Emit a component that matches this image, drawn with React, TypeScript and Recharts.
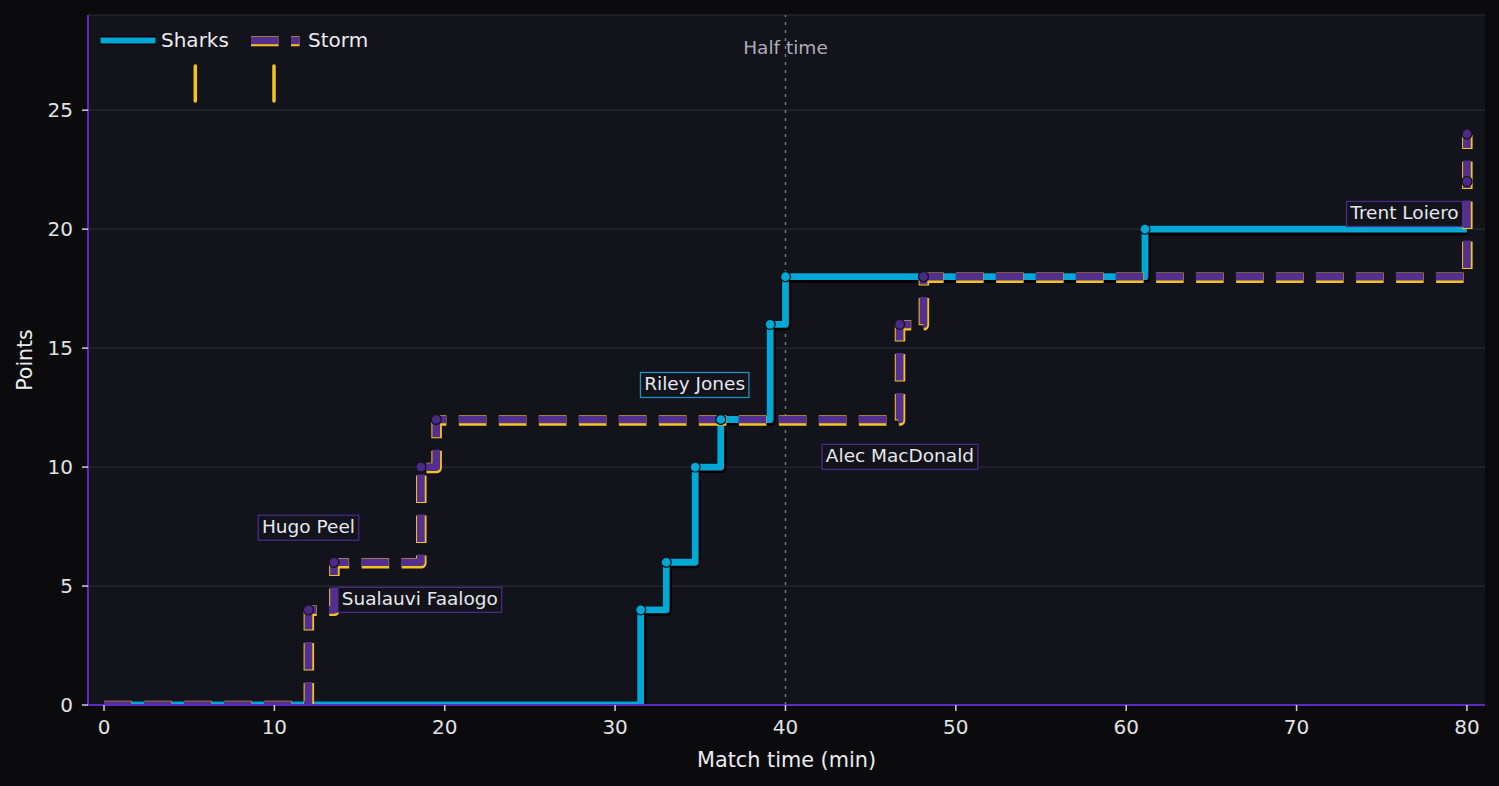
import React from 'react';
import {
  ComposedChart,
  Line,
  Scatter,
  XAxis,
  YAxis,
  CartesianGrid,
  ReferenceLine,
} from 'recharts';

// ---- data ----
const sharksTime = [0, 31.5, 33.0, 34.7, 36.2, 39.1, 40.0, 61.1, 80];
const sharksPoints = [0, 4, 6, 10, 12, 16, 18, 20, 20];
const stormTime = [0, 12.0, 13.5, 18.6, 19.5, 46.7, 48.1, 80, 80];
const stormPoints = [0, 4, 6, 10, 12, 16, 18, 22, 24];

const xTicks = [0, 10, 20, 30, 40, 50, 60, 70, 80];
const yTicks = [0, 5, 10, 15, 20, 25];

const scorerNames = ['Hugo Peel', 'Sualauvi Faalogo', 'Riley Jones', 'Alec MacDonald', 'Trent Loiero'];
const scorerTeams = ['Storm', 'Storm', 'Sharks', 'Storm', 'Storm'];
const labelTime = [12.0, 13.73, 34.67, 46.72, 79.74];
const labelPoints = [7.45, 4.42, 13.45, 10.43, 20.64];
const labelAlign = ['middle', 'start', 'middle', 'middle', 'end'];

const halfTime = 40;

// ---- styles ----
const CYAN = '#00a8d6';
const PURPLE = '#53308f';
const YELLOW = '#f5c41c';
const SPINE = '#5f27c4';
const PLOT_BG = '#12131b';
const FIG_BG = '#0b0b0e';
const FONT = '"DejaVu Sans", sans-serif';

const sharksData = sharksTime.map((t, i) => ({ t, v: sharksPoints[i] }));
const stormData = stormTime.map((t, i) => ({ t, v: stormPoints[i] }));
const sharksDots = sharksData.filter((d, i) => i > 0 && d.v !== sharksData[i - 1].v);
const stormDots = stormData.filter((d, i) => i > 0 && d.v !== stormData[i - 1].v);
const labelData = scorerNames.map((name, i) => ({
  t: labelTime[i],
  v: labelPoints[i],
  name,
  team: scorerTeams[i],
  align: labelAlign[i],
}));

let ctx: CanvasRenderingContext2D | null = null;
function measure(text: string, size: number) {
  if (!ctx) {
    const c = document.createElement('canvas');
    ctx = c.getContext('2d');
  }
  if (!ctx) return text.length * size * 0.6;
  ctx.font = `${size}px "DejaVu Sans"`;
  return ctx.measureText(text).width;
}

const LABEL_SIZE = 18.5;

const LabelBox = (props: any) => {
  const { cx, cy, payload } = props;
  if (cx == null || cy == null) return null;
  const pad = 3.8;
  const w = measure(payload.name, LABEL_SIZE) + pad * 2;
  const h = 25;
  let x0 = cx - w / 2;
  if (payload.align === 'start') x0 = cx;
  if (payload.align === 'end') x0 = cx - w;
  const border = payload.team === 'Sharks' ? '#1a93c0' : '#4a2a85';
  return (
    <g>
      <rect x={x0} y={cy - h / 2} width={w} height={h} fill={PLOT_BG} stroke={border} strokeWidth={1.3} />
      <text x={x0 + w / 2} y={cy + 5} textAnchor="middle" fontSize={LABEL_SIZE} fill="#e6e6ec" fontFamily={FONT}>
        {payload.name}
      </text>
    </g>
  );
};

const SharksDot = (props: any) => {
  const { cx, cy } = props;
  if (cx == null || cy == null) return null;
  return <circle cx={cx} cy={cy} r={5} fill={CYAN} stroke="#10131a" strokeWidth={1.3} />;
};
const StormDot = (props: any) => {
  const { cx, cy } = props;
  if (cx == null || cy == null) return null;
  return <circle cx={cx} cy={cy} r={5} fill="#4a2a85" stroke="#15131c" strokeWidth={1.3} />;
};

const DASH = '27.5 12.5';

export default function App() {
  return (
    <div
      style={{
        position: 'fixed',
        left: 0,
        top: 0,
        width: 1499,
        height: 786,
        background: FIG_BG,
        fontFamily: FONT,
      }}
    >
      <style>{`
        .sharks-shadow { transform: translate(1px, 1.3px); }
        .storm-edge { transform: translate(0.4px, 1px); }
      `}</style>
      <ComposedChart
        width={1499}
        height={786}
        margin={{ top: 15, right: 14, left: 0, bottom: 0 }}
        style={{ fontFamily: FONT }}
      >
        <CartesianGrid
          vertical={false}
          horizontal={true}
          stroke="#2b2b31"
          strokeWidth={1.2}
          fill={PLOT_BG}
          fillOpacity={1}
        />
        <XAxis
          type="number"
          dataKey="t"
          domain={[-0.94, 81.06]}
          ticks={xTicks}
          allowDataOverflow
          height={81}
          tickSize={6}
          tickMargin={9}
          tickLine={{ stroke: '#cfcfd6', strokeWidth: 1.5 }}
          axisLine={{ stroke: SPINE, strokeWidth: 2 }}
          tick={{ fill: '#e2e2e6', fontSize: 20 }}
          label={{
            value: 'Match time (min)',
            position: 'insideBottom',
            offset: 19.5,
            fill: '#ececf0',
            fontSize: 20.8,
          }}
        />
        <YAxis
          type="number"
          dataKey="v"
          domain={[0, 29]}
          ticks={yTicks}
          allowDataOverflow
          width={88}
          tickSize={6}
          tickMargin={9}
          tickLine={{ stroke: '#cfcfd6', strokeWidth: 1.5 }}
          axisLine={{ stroke: SPINE, strokeWidth: 2 }}
          tick={{ fill: '#e2e2e6', fontSize: 20 }}
          label={{
            value: 'Points',
            angle: -90,
            position: 'insideLeft',
            offset: 25,
            fill: '#ececf0',
            fontSize: 20.5,
            style: { textAnchor: 'middle' },
          }}
        />
        <ReferenceLine
          x={halfTime}
          stroke="#74747e"
          strokeWidth={1.5}
          strokeDasharray="3 5"
          label={{
            value: 'Half time',
            position: 'insideTop',
            offset: 26,
            fill: '#aeaeb8',
            fontSize: 18.5,
          }}
        />
        {/* Sharks */}
        <Line
          className="sharks-shadow"
          data={sharksData}
          dataKey="v"
          type="stepAfter"
          stroke="#000000"
          strokeWidth={9.5}
          strokeLinejoin="round"
          dot={false}
          activeDot={false}
          isAnimationActive={false}
        />
        <Line
          data={sharksData}
          dataKey="v"
          type="stepAfter"
          stroke={CYAN}
          strokeWidth={6.8}
          strokeLinejoin="round"
          dot={false}
          activeDot={false}
          isAnimationActive={false}
        />
        {/* Storm */}
        <Line
          className="storm-edge"
          data={stormData}
          dataKey="v"
          type="stepAfter"
          stroke={YELLOW}
          strokeWidth={10.5}
          strokeDasharray={DASH}
          strokeLinejoin="round"
          dot={false}
          activeDot={false}
          isAnimationActive={false}
        />
        <Line
          data={stormData}
          dataKey="v"
          type="stepAfter"
          stroke={PURPLE}
          strokeWidth={7.7}
          strokeDasharray={DASH}
          strokeLinejoin="round"
          dot={false}
          activeDot={false}
          isAnimationActive={false}
        />
        <Scatter data={sharksDots} dataKey="v" shape={SharksDot} isAnimationActive={false} />
        <Scatter data={stormDots} dataKey="v" shape={StormDot} isAnimationActive={false} />
        <Scatter data={labelData} dataKey="v" shape={LabelBox} isAnimationActive={false} />
      </ComposedChart>

      {/* Legend */}
      <svg
        width={1499}
        height={786}
        style={{ position: 'absolute', left: 0, top: 0, pointerEvents: 'none' }}
      >
        <line x1={100} y1={40.5} x2={156} y2={40.5} stroke="#000" strokeWidth={8.5} />
        <line x1={100.5} y1={40.5} x2={155.5} y2={40.5} stroke={CYAN} strokeWidth={6} />
        <text x={161} y={47.3} fontSize={20} fill="#ececf0" fontFamily={FONT}>
          Sharks
        </text>
        <line x1={251} y1={41.3} x2={299.5} y2={41.3} stroke={YELLOW} strokeWidth={10} strokeDasharray={DASH} />
        <line x1={251} y1={40.6} x2={299.5} y2={40.6} stroke={PURPLE} strokeWidth={7.5} strokeDasharray={DASH} />
        <text x={308} y={47.3} fontSize={20} fill="#ececf0" fontFamily={FONT}>
          Storm
        </text>
        <line x1={195.3} y1={66} x2={195.3} y2={101} stroke={YELLOW} strokeWidth={3.5} strokeLinecap="round" />
        <line x1={274} y1={66} x2={274} y2={101} stroke={YELLOW} strokeWidth={3.5} strokeLinecap="round" />
      </svg>
    </div>
  );
}
